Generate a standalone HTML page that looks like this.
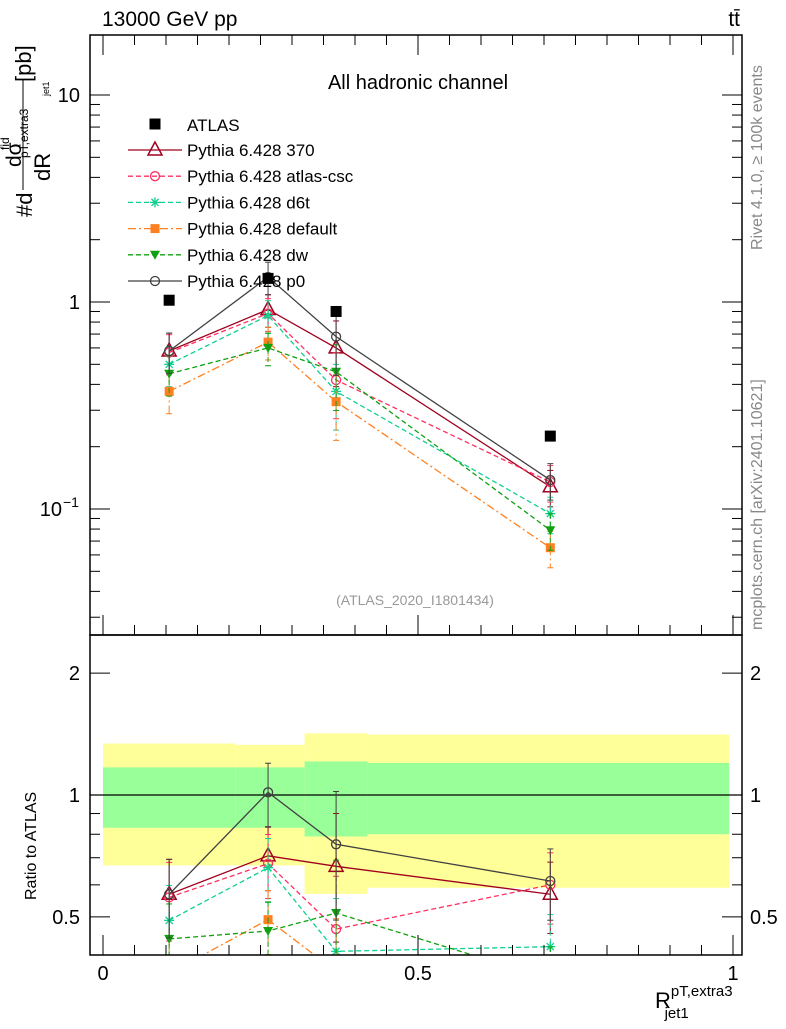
<!DOCTYPE html>
<html><head><meta charset="utf-8"><style>body{margin:0;background:#fff}svg text{font-family:"Liberation Sans",sans-serif}</style></head>
<body>
<svg id="c" width="786" height="1024" xmlns="http://www.w3.org/2000/svg"></svg>
<script>
const xVals=[0.105,0.262,0.37,0.71];
const atlas=[1.02,1.3,0.9,0.225];
const binEdges=[0,0.21,0.32,0.42,0.994];
const bandYelHi=[1.34,1.33,1.42,1.41];
const bandYelLo=[0.67,0.67,0.57,0.59];
const bandGrnHi=[1.17,1.17,1.21,1.2];
const bandGrnLo=[0.83,0.83,0.79,0.8];
const s370=[0.58,0.92,0.6,0.128];
const sCsc=[0.57,0.88,0.42,0.135];
const sD6t=[0.5,0.86,0.37,0.095];
const sDef=[0.37,0.64,0.33,0.065];
const sDw=[0.45,0.6,0.46,0.079];
const sP0=[0.58,1.32,0.68,0.138];
const relErr=[0.22,0.18,0.35,0.2];
const series=[
 {name:'Pythia 6.428 370',v:s370,c:'#a0001e',dash:'',m:'tri'},
 {name:'Pythia 6.428 atlas-csc',v:sCsc,c:'#ff3060',dash:'5,3',m:'circ'},
 {name:'Pythia 6.428 d6t',v:sD6t,c:'#10d090',dash:'5,3',m:'star'},
 {name:'Pythia 6.428 default',v:sDef,c:'#ff8020',dash:'8,3,2,3',m:'sq'},
 {name:'Pythia 6.428 dw',v:sDw,c:'#10a010',dash:'5,3',m:'dtri'},
 {name:'Pythia 6.428 p0',v:sP0,c:'#404040',dash:'',m:'circ'}];
const svg=document.getElementById('c');const NS='http://www.w3.org/2000/svg';
function el(t,a,p){const e=document.createElementNS(NS,t);for(const k in a)e.setAttribute(k,a[k]);(p||svg).appendChild(e);return e;}
const L=90,R=742,T=35,M=635,B=955;
const X=v=>103+630*v;
const Y=v=>302-207*Math.log10(v);
const YR=v=>795-405*Math.log10(v);
const rc=el('clipPath',{id:'rc'});el('rect',{x:L,y:M,width:R-L,height:B-M},rc);
const cm=el('clipPath',{id:'mc'});el('rect',{x:L,y:T,width:R-L,height:M-T},cm);
const gb=el('g',{'clip-path':'url(#rc)'});
for(let i=0;i<4;i++){
 let r=el('rect',{x:X(binEdges[i]),y:YR(bandYelHi[i]),width:X(binEdges[i+1])-X(binEdges[i]),height:YR(bandYelLo[i])-YR(bandYelHi[i]),fill:'#ffff99'},gb);
 
 r=el('rect',{x:X(binEdges[i]),y:YR(bandGrnHi[i]),width:X(binEdges[i+1])-X(binEdges[i]),height:YR(bandGrnLo[i])-YR(bandGrnHi[i]),fill:'#99ff99'},gb);
 
}
el('line',{x1:L,x2:R,y1:YR(1),y2:YR(1),stroke:'#000','stroke-width':1.2});
function marker(g,m,x,y,c){
 if(m==='tri')el('polygon',{points:`${x},${y-8} ${x-7},${y+5} ${x+7},${y+5}`,fill:'none',stroke:c,'stroke-width':1.5},g);
 else if(m==='dtri')el('polygon',{points:`${x},${y+5} ${x-5},${y-4} ${x+5},${y-4}`,fill:c},g);
 else if(m==='circ')el('circle',{cx:x,cy:y,r:4.5,fill:'none',stroke:c,'stroke-width':1.3},g);
 else if(m==='sq')el('rect',{x:x-4.5,y:y-4.5,width:9,height:9,fill:c},g);
 else if(m==='star'){for(let a=0;a<4;a++){const t=a*Math.PI/4;el('line',{x1:x-5*Math.cos(t),y1:y-5*Math.sin(t),x2:x+5*Math.cos(t),y2:y+5*Math.sin(t),stroke:c,'stroke-width':1.3},g);}}
 else if(m==='fsq')el('rect',{x:x-5.5,y:y-5.5,width:11,height:11,fill:c},g);
}
function drawSeries(s,panel){
 const g=el('g',{'clip-path':panel?'url(#rc)':'url(#mc)'});
 
 
 const ys=s.v.map((v,i)=>panel?YR(v/atlas[i]):Y(v));
 const eh=s.v.map((v,i)=>panel?[YR(v/atlas[i]*(1+relErr[i])),YR(v/atlas[i]*(1-relErr[i]))]:[Y(v*(1+relErr[i])),Y(v*(1-relErr[i]))]);
 for(let i=0;i<4;i++){const x=X(xVals[i]);
  el('line',{x1:x,x2:x,y1:eh[i][0],y2:eh[i][1],stroke:s.c,'stroke-width':1,'stroke-dasharray':s.dash},g);
  el('line',{x1:x-3,x2:x+3,y1:eh[i][0],y2:eh[i][0],stroke:s.c},g);
  el('line',{x1:x-3,x2:x+3,y1:eh[i][1],y2:eh[i][1],stroke:s.c},g);}
 el('polyline',{points:xVals.map((x,i)=>X(x)+','+ys[i]).join(' '),fill:'none',stroke:s.c,'stroke-width':1.3,'stroke-dasharray':s.dash},g);
 for(let i=0;i<4;i++)marker(g,s.m,X(xVals[i]),ys[i],s.c);
}
series.forEach(s=>{drawSeries(s,false);drawSeries(s,true);});
const ga=el('g',{'clip-path':'url(#mc)'});
atlas.forEach((v,i)=>marker(ga,'fsq',X(xVals[i]),Y(v),'#000'));
el('rect',{x:L,y:T,width:R-L,height:M-T,fill:'none',stroke:'#000','stroke-width':1.5});
el('rect',{x:L,y:M,width:R-L,height:B-M,fill:'none',stroke:'#000','stroke-width':1.5});
for(let d=-2;d<=1;d++)for(let k=1;k<10;k++){const v=k*Math.pow(10,d);const y=Y(v);if(y<T||y>M)continue;const len=k===1?20:10;
 el('line',{x1:L,x2:L+len,y1:y,y2:y,stroke:'#000'});el('line',{x1:R,x2:R-len,y1:y,y2:y,stroke:'#000'});}
const mainTickVals=[10,1,0.1];const mainTickLbl=['10','1','10'];
mainTickVals.forEach((v,i)=>{const t=el('text',{x:80,y:Y(v)+7,'font-size':20,'text-anchor':'end'});t.textContent=mainTickLbl[i];
 
 if(v===0.1){t.setAttribute('x',62);const s=el('text',{x:63,y:Y(v)-2,'font-size':14});s.textContent='−1';}});
[0.5,0.6,0.7,0.8,0.9,1,2].forEach(v=>{const y=YR(v);const len=(v===0.5||v===1||v===2)?20:10;
 el('line',{x1:L,x2:L+len,y1:y,y2:y,stroke:'#000'});el('line',{x1:R,x2:R-len,y1:y,y2:y,stroke:'#000'});});
const ratioTicks=[0.5,1,2];const ratioLbl=['0.5','1','2'];
ratioTicks.forEach((v,i)=>{let t=el('text',{x:80,y:YR(v)+7,'font-size':20,'text-anchor':'end'});t.textContent=ratioLbl[i];
 t=el('text',{x:750,y:YR(v)+7,'font-size':20});t.textContent=ratioLbl[i];});
for(let k=0;k<=20;k++){const v=k*0.05;const x=X(v);const len=k%10===0?20:10;
 el('line',{x1:x,x2:x,y1:B,y2:B-len,stroke:'#000'});el('line',{x1:x,x2:x,y1:M,y2:M-len,stroke:'#000'});el('line',{x1:x,x2:x,y1:T,y2:T+len,stroke:'#000'});}
const xTicks=[0,0.5,1];const xLbl=['0','0.5','1'];
xTicks.forEach((v,i)=>{const t=el('text',{x:X(v),y:980,'font-size':20,'text-anchor':'middle'});t.textContent=xLbl[i];});
const lg=el('g',{});
marker(lg,'fsq',155,124,'#000');let t=el('text',{x:187,y:131,'font-size':17},lg);t.textContent='ATLAS';
series.forEach((s,i)=>{const y=150+26.2*i;el('line',{x1:128,x2:182,y1:y,y2:y,stroke:s.c,'stroke-width':1.3,'stroke-dasharray':s.dash},lg);marker(lg,s.m,155,y,s.c);
 const tt=el('text',{x:187,y:y+6,'font-size':17},lg);tt.textContent=s.name;});
function txt(x,y,s,str,attrs,name,p){const e=el('text',Object.assign({x,y,'font-size':s},attrs||{}),p);e.textContent=str;return e;}
txt(418,89,20,'All hadronic channel',{'text-anchor':'middle'},'plot-title');
txt(102,26,21,'13000 GeV pp',{},'header-left');
txt(740,26,21,'tt̄',{'text-anchor':'end'},'header-right');
txt(415,605,14,'(ATLAS_2020_I1801434)',{'text-anchor':'middle',fill:'#999'},'analysis-id');
txt(762,250,16,'Rivet 4.1.0, ≥ 100k events',{transform:'rotate(-90 762 250)',fill:'#888'},'rivet-label');
txt(762,630,16,'mcplots.cern.ch [arXiv:2401.10621]',{transform:'rotate(-90 762 630)',fill:'#888'},'mcplots-label');
txt(36,900,16,'Ratio to ATLAS',{transform:'rotate(-90 36 900)'},'ratio-y-title');
const yg=el('g',{transform:'rotate(-90)'});
txt(-217,32,22,'#d',{},'y-title-prefix',yg);
txt(-167,21,21,'dσ',{},'y-title-numerator',yg);
txt(-150,9,12,'fid',{},'y-title-sup',yg);
txt(-158,28,12,'pT,extra3',{},'y-title-sub',yg);
el('line',{x1:-190,x2:-80,y1:23,y2:23,stroke:'#000','stroke-width':1},yg);
txt(-181,50,22,'dR',{},'y-title-denominator',yg);
txt(-96,49,9,'jet1',{},'y-title-sub2',yg);
txt(-82,31,22,'[pb]',{},'y-title-unit',yg);
const xl=el('text',{x:655,y:1008,'font-size':22});
xl.innerHTML='R<tspan font-size="15" dy="-12">pT,extra3</tspan><tspan font-size="15" dx="-68" dy="22">jet1</tspan>';
</script>
</body></html>
